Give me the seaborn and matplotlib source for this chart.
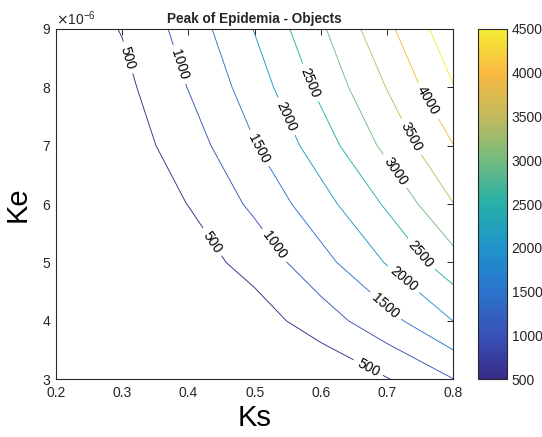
import numpy as np
import matplotlib
matplotlib.use("Agg")
import matplotlib.pyplot as plt
from matplotlib.colors import LinearSegmentedColormap, Normalize
from matplotlib.cm import ScalarMappable
from matplotlib.ticker import ScalarFormatter
import seaborn as sns

### data
ks = [0.2, 0.3, 0.4, 0.5, 0.6, 0.7, 0.8]
ke = [3e-6, 4e-6, 5e-6, 6e-6, 7e-6, 8e-6, 9e-6]

# peak values, one list per Ke row (3..9), one entry per Ks (0.2..0.8)
peak_ke3 = [3, 8, 15, 30, 60, 474, 990]
peak_ke4 = [10, 45, 120, 261, 759, 1333, 2005]
peak_ke5 = [20, 90, 259, 682, 1331, 2035, 2805]
peak_ke6 = [35, 150, 510, 1105, 1810, 2570, 3490]
peak_ke7 = [60, 236, 754, 1477, 2245, 3135, 3990]
peak_ke8 = [90, 354, 1017, 1750, 2626, 3520, 4480]
peak_ke9 = [130, 527, 1210, 2024, 2922, 3885, 4846]

levels = [500, 1000, 1500, 2000, 2500, 3000, 3500, 4000, 4500]
cbar_ticks = [500, 1000, 1500, 2000, 2500, 3000, 3500, 4000, 4500]

### parula-like colormap, colours picked from the colorbar
parula = LinearSegmentedColormap.from_list("parula", [
    (0.000, (0.21, 0.17, 0.53)),
    (0.125, (0.22, 0.32, 0.72)),
    (0.250, (0.17, 0.45, 0.80)),
    (0.375, (0.12, 0.58, 0.80)),
    (0.500, (0.15, 0.69, 0.66)),
    (0.625, (0.45, 0.73, 0.50)),
    (0.750, (0.76, 0.73, 0.36)),
    (0.875, (0.98, 0.73, 0.26)),
    (1.000, (0.96, 0.93, 0.20)),
])

sns.set_style("white")
plt.rcParams['font.family'] = ['Liberation Sans', 'DejaVu Sans']
grey = (0.15, 0.15, 0.15)

fig = plt.figure(figsize=(5.42, 4.37), dpi=100)
ax = fig.add_axes([0.1033, 0.132, 0.733, 0.8023])
cax = fig.add_axes([0.8825, 0.132, 0.0524, 0.8023])

Z = np.array([peak_ke3, peak_ke4, peak_ke5, peak_ke6, peak_ke7, peak_ke8, peak_ke9])
norm = Normalize(vmin=500, vmax=4500)
cs = ax.contour(ks, ke, Z, levels=levels, cmap=parula, norm=norm, linewidths=0.65)

# label spots
label_pos = [(0.307, 8.50e-6), (0.436, 5.35e-6), (0.671, 3.19e-6),
             (0.384, 8.38e-6), (0.526, 5.26e-6),
             (0.507, 6.96e-6), (0.697, 4.25e-6),
             (0.546, 7.49e-6), (0.724, 4.70e-6),
             (0.582, 8.07e-6), (0.747, 5.10e-6),
             (0.709, 6.54e-6), (0.734, 7.13e-6), (0.758, 7.74e-6)]
ax.clabel(cs, inline=True, fmt='%d', fontsize=10, colors='k', manual=label_pos)

ax.set_xlim(0.2, 0.8)
ax.set_ylim(3e-6, 9e-6)
ax.set_xticks([0.2, 0.3, 0.4, 0.5, 0.6, 0.7, 0.8])
ax.set_yticks(ke)
fmt = ScalarFormatter(useMathText=True)
fmt.set_powerlimits((0, 0))
ax.yaxis.set_major_formatter(fmt)
ax.yaxis.get_offset_text().set_fontsize(10)
ax.yaxis.get_offset_text().set_color(grey)

ax.tick_params(direction='in', top=True, right=True, length=4, width=0.7,
               labelsize=10, colors=grey, labelcolor=grey)
ax.tick_params(axis='x', pad=5)
for s in ax.spines.values():
    s.set_color(grey)
    s.set_linewidth(0.8)

ax.set_title('Peak of Epidemia - Objects', fontsize=9.8, fontweight='bold', pad=4)
ax.set_xlabel('Ks', fontsize=21, labelpad=3, color='k')
ax.set_ylabel('Ke', fontsize=21, labelpad=7, color='k')

sm = ScalarMappable(norm=norm, cmap=parula)
cb = fig.colorbar(sm, cax=cax, ticks=cbar_ticks)
cb.outline.set_edgecolor(grey)
cb.outline.set_linewidth(0.8)
cax.tick_params(direction='in', length=4, width=0.7, labelsize=10, colors=grey, labelcolor=grey)

fig.savefig('out.png', dpi=100)
